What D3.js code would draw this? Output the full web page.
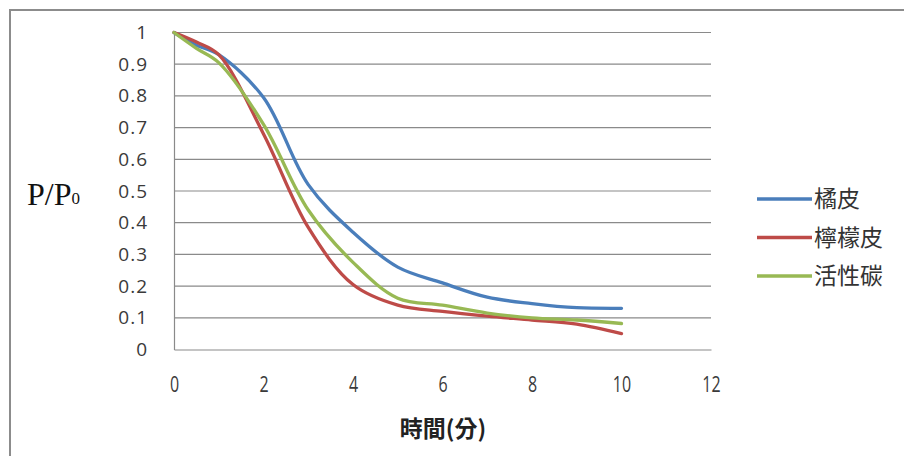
<!DOCTYPE html>
<html>
<head>
<meta charset="utf-8">
<script src="https://cdn.jsdelivr.net/npm/d3@7/dist/d3.min.js"></script>
<style>
  html, body { margin: 0; padding: 0; background: #fff; }
  svg { display: block; }
</style>
</head>
<body>
<svg id="chart" width="904" height="456"></svg>
<script>
// Elapsed time in minutes
const times = [0, 0.5, 1, 2, 3, 4, 5, 6, 7, 8, 9, 10];
// Relative pressure P/P0 for each adsorbent
const orangePeel = [1, 0.96, 0.93, 0.795, 0.52, 0.37, 0.26, 0.21, 0.165, 0.145, 0.132, 0.13];
const lemonPeel  = [1, 0.97, 0.93, 0.68, 0.385, 0.205, 0.14, 0.12, 0.105, 0.093, 0.08, 0.05];
const activatedC = [1, 0.95, 0.905, 0.71, 0.44, 0.275, 0.162, 0.14, 0.115, 0.10, 0.093, 0.082];
const seriesNames = ["橘皮", "檸檬皮", "活性碳"];
const seriesColors = ["#4a7ebb", "#be4b48", "#98b954"];
const xTicks = [0, 2, 4, 6, 8, 10, 12];
const yTicks = [0, 0.1, 0.2, 0.3, 0.4, 0.5, 0.6, 0.7, 0.8, 0.9, 1];

const series = [orangePeel, lemonPeel, activatedC].map((vals, i) => ({
  name: seriesNames[i],
  color: seriesColors[i],
  points: times.map((t, j) => [t, vals[j]])
}));

const svg = d3.select("#chart");

// outer frame (top and left edges)
svg.append("path")
  .attr("d", "M10,456 L10,10 L904,10")
  .attr("fill", "none")
  .attr("stroke", "#8c8c8c")
  .attr("stroke-width", 2);

const x = d3.scaleLinear().domain([0, 12]).range([174, 711]);
const y = d3.scaleLinear().domain([0, 1]).range([349.5, 32.5]);

// horizontal gridlines
svg.append("g")
  .selectAll("line")
  .data(yTicks.filter(v => v > 0))
  .join("line")
  .attr("x1", x(0)).attr("x2", x(12))
  .attr("y1", d => y(d)).attr("y2", d => y(d))
  .attr("stroke", "#8a8a8a").attr("stroke-width", 1.2);

// y axis
const yAxis = svg.append("g")
  .attr("transform", `translate(${x(0)},0)`)
  .call(d3.axisLeft(y).tickValues(yTicks).tickSize(0).tickPadding(26).tickFormat(d3.format("")));
yAxis.select(".domain").attr("stroke", "#8a8a8a").attr("stroke-width", 1.2);
yAxis.selectAll("text")
  .attr("font-family", "'Open Sans', 'DejaVu Sans', sans-serif")
  .attr("font-size", 19)
  .attr("letter-spacing", 1)
  .attr("fill", "#3a3a3a");

// x axis; tick labels use a tall, narrow face
const xAxis = svg.append("g")
  .attr("transform", `translate(0,${y(0)})`)
  .call(d3.axisBottom(x).tickValues(xTicks).tickSize(0).tickPadding(0).tickFormat(d3.format("")));
xAxis.select(".domain").attr("stroke", "#8a8a8a").attr("stroke-width", 1.2);
xAxis.selectAll("text")
  .attr("y", 0).attr("dy", null)
  .attr("transform", "translate(0,42) scale(1,1.35)")
  .attr("font-family", "'Open Sans', 'DejaVu Sans', sans-serif")
  .attr("font-size", 16)
  .attr("fill", "#3a3a3a");

// series lines
const line = d3.line()
  .x(d => x(d[0]))
  .y(d => y(d[1]))
  .curve(d3.curveCatmullRom.alpha(0.5));

svg.append("g")
  .selectAll("path")
  .data(series)
  .join("path")
  .attr("d", d => line(d.points))
  .attr("fill", "none")
  .attr("stroke", d => d.color)
  .attr("stroke-width", 3.3)
  .attr("stroke-linecap", "round")
  .attr("stroke-linejoin", "round");

// axis titles
svg.append("text")
  .attr("x", 443).attr("y", 437)
  .attr("text-anchor", "middle")
  .attr("font-family", "'Noto Sans CJK TC', sans-serif")
  .attr("font-weight", "bold")
  .attr("font-size", 23)
  .attr("fill", "#222")
  .text("時間(分)");

const yTitle = svg.append("text")
  .attr("x", 27).attr("y", 205)
  .attr("font-family", "'Liberation Serif', 'DejaVu Serif', serif")
  .attr("font-size", 32)
  .attr("fill", "#111");
yTitle.append("tspan").text("P/P");
yTitle.append("tspan").attr("font-size", 17).attr("dy", -1).text("0");

// legend
const legend = svg.append("g")
  .selectAll("g")
  .data(series)
  .join("g")
  .attr("transform", (d, i) => `translate(757,${199 + i * 38.5})`);
legend.append("line")
  .attr("x1", 0).attr("x2", 55)
  .attr("y1", 0).attr("y2", 0)
  .attr("stroke", d => d.color)
  .attr("stroke-width", 3.3);
legend.append("text")
  .attr("x", 57).attr("y", 8)
  .attr("font-family", "'Noto Sans CJK TC', sans-serif")
  .attr("font-size", 23)
  .attr("fill", "#333")
  .text(d => d.name);
</script>
</body>
</html>
